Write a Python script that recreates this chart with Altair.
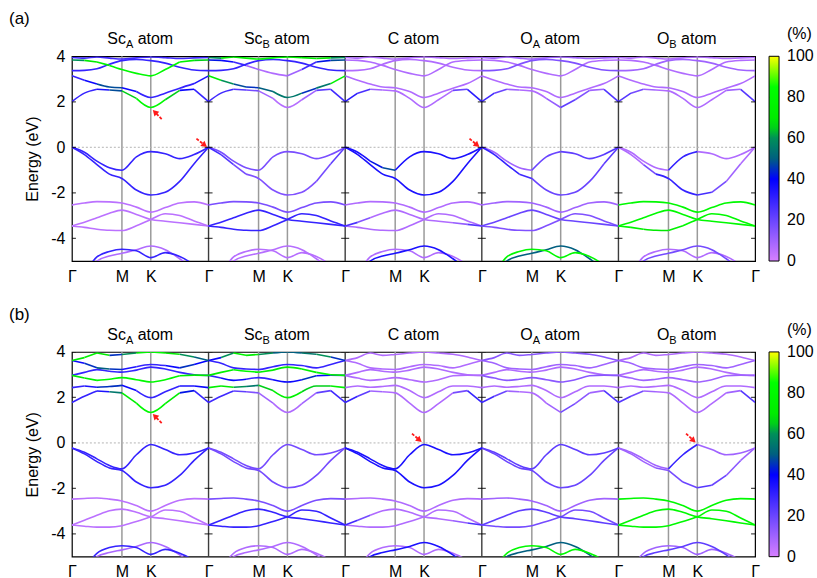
import math
import altair as alt
import pandas as pd

# ---------------- data ----------------
PATH_LEN = 2.732                      # Γ-M-K-Γ path length (ΓM = 1)
K_GRID = [0.0, 0.25, 0.5, 0.75, 1.0, 1.289, 1.577, 1.866, 2.155, 2.444, 2.732]
SYM_POS = [0.0, 1.0, 1.577]           # Γ, M, K inside one panel
PANEL_KEYS = ["ScA", "ScB", "C", "OA", "OB"]
PANEL_TITLES = [("Sc", "A", "atom"), ("Sc", "B", "atom"), ("C atom", "", ""),
                ("O", "A", "atom"), ("O", "B", "atom")]
ROW_LABELS = ["(a)", "(b)"]
E_MIN, E_MAX = -5, 4
Y_TICKS = [-4, -2, 0, 2, 4]
CB_STOPS = [0, 20, 40, 50, 60, 67, 85, 100]
CB_COLORS = ["#d680ff", "#6a45ff", "#0000ff", "#005f80", "#009058", "#00e800", "#00ff00", "#ffff00"]
CB_TICKS = [0, 20, 40, 60, 80, 100]
CB_DASHED = [20, 40, 60, 80]

# band energies (eV) at K_GRID, row (a)
BANDS_A = {
    "BX": [-6.0, -5.5, -4.82, -4.58, -4.48, -4.55, -4.85, -4.63, -4.8, -5.2, -6.0],
    "BY": [-6.0, -5.6, -5.0, -4.78, -4.66, -4.5, -4.34, -4.5, -4.9, -5.4, -6.0],
    "L1": [-2.54, -2.45, -2.39, -2.4, -2.45, -2.63, -2.85, -2.65, -2.45, -2.4, -2.54],
    "L2": [-3.46, -3.3, -3.1, -2.9, -2.76, -2.95, -3.17, -3.25, -3.32, -3.39, -3.46],
    "L3": [-3.46, -3.52, -3.6, -3.65, -3.66, -3.45, -3.17, -2.92, -3.0, -3.24, -3.46],
    "v2": [0.0, -0.32, -0.76, -1.18, -1.37, -1.88, -2.1, -1.98, -1.5, -0.72, 0.0],
    "v1": [0.0, -0.22, -0.61, -0.9, -1.01, -0.42, -0.19, -0.28, -0.5, -0.32, 0.0],
    "C1": [2.01, 2.38, 2.55, 2.52, 2.48, 2.15, 1.75, 2.09, 2.5, 2.55, 2.01],
    "C2": [3.14, 2.95, 2.78, 2.65, 2.62, 2.45, 2.19, 2.38, 2.6, 2.8, 3.14],
    "C3": [3.37, 3.38, 3.45, 3.65, 3.81, 3.86, 3.81, 3.7, 3.52, 3.4, 3.37],
    "C4": [3.84, 3.82, 3.75, 3.6, 3.42, 3.25, 3.14, 3.42, 3.75, 3.82, 3.84],
    "C5": [3.95, 3.92, 3.97, 3.92, 3.88, 3.93, 3.97, 3.94, 3.9, 3.93, 3.95],
}
# band energies (eV) at K_GRID, row (b)
BANDS_B = {
    "BX": [-6.0, -5.5, -4.85, -4.6, -4.52, -4.6, -4.9, -4.68, -4.85, -5.2, -6.0],
    "BY": [-6.0, -5.6, -5.0, -4.82, -4.7, -4.55, -4.38, -4.55, -4.92, -5.4, -6.0],
    "L1": [-2.47, -2.44, -2.42, -2.47, -2.55, -2.75, -3.0, -2.75, -2.52, -2.45, -2.47],
    "L2": [-3.61, -3.4, -3.18, -2.98, -2.91, -3.05, -3.25, -3.33, -3.42, -3.52, -3.61],
    "L3": [-3.61, -3.66, -3.7, -3.7, -3.64, -3.45, -3.25, -2.95, -3.0, -3.3, -3.61],
    "v2": [-0.22, -0.48, -0.82, -1.1, -1.21, -1.72, -1.97, -1.86, -1.43, -0.77, -0.22],
    "v1": [-0.22, -0.41, -0.7, -0.99, -1.14, -0.52, -0.07, -0.29, -0.52, -0.44, -0.22],
    "C1": [1.78, 2.05, 2.28, 2.25, 2.2, 1.75, 1.34, 1.73, 2.2, 2.3, 1.78],
    "C2": [2.43, 2.5, 2.45, 2.48, 2.53, 2.3, 1.99, 2.25, 2.5, 2.5, 2.43],
    "C3": [2.97, 2.85, 2.75, 2.8, 2.87, 2.78, 2.68, 2.78, 2.95, 2.98, 2.97],
    "C4": [2.97, 3.1, 3.22, 3.15, 3.11, 3.2, 3.33, 3.25, 3.1, 3.0, 2.97],
    "C5": [3.62, 3.5, 3.3, 3.25, 3.23, 3.35, 3.45, 3.4, 3.3, 3.45, 3.62],
    "C6": [3.62, 3.75, 3.95, 3.85, 3.89, 3.95, 4.0, 3.95, 3.9, 3.78, 3.62],
}

# atom-projected weight (%) per panel and band; a list gives one value per k-segment
WEIGHTS_A = {
    "ScA": {"v1": 30, "v2": 30, "L1": 5, "L2": 5, "L3": 5, "BX": 30, "BY": 7,
            "C1": [30, 30, 35, 48, 65, 80, 80, 65, 38, 30], "C2": [30, 38, 48, 48, 38, 30, 30, 30, 30, 35],
            "C3": 30, "C4": [60, 70, 75, 80, 80, 80, 80, 80, 75, 65], "C5": 28},
    "ScB": {"v1": 17, "v2": [28, 24, 18, 16, 16, 16, 16, 16, 18, 22], "L1": 17, "L2": 30, "L3": 30,
            "BX": 6, "BY": 6,
            "C1": [28, 28, 24, 18, 10, 6, 6, 10, 22, 28], "C2": [75, 60, 48, 45, 50, 55, 55, 45, 55, 75],
            "C3": 30, "C4": [42, 38, 28, 10, 7, 7, 10, 28, 42, 48],
            "C5": [60, 70, 75, 80, 80, 80, 80, 75, 70, 60]},
    "C": {"v1": [35, 35, 42, 48, 35, 35, 35, 35, 35, 35], "v2": 35, "L1": 7,
          "L2": [26, 15, 7, 7, 7, 7, 7, 7, 12, 24], "L3": 7, "BX": 7, "BY": 35,
          "C1": [32, 26, 10, 7, 7, 7, 7, 7, 20, 32], "C2": 7, "C3": 7, "C4": 7, "C5": 7},
    "OA": {"v1": [10, 10, 10, 10, 20, 20, 22, 22, 22, 25], "v2": [30, 30, 30, 28, 20, 20, 20, 20, 20, 23],
           "L1": 10, "L2": 20, "L3": 16, "BX": 80, "BY": 50,
           "C1": [28, 20, 10, 7, 7, 12, 22, 16, 10, 25], "C2": 7, "C3": 16, "C4": 7, "C5": 10},
    "OB": {"v1": [7, 7, 7, 7, 30, 30, 7, 7, 7, 7], "v2": [7, 7, 18, 30, 30, 30, 27, 18, 10, 7],
           "L1": 80, "L2": 80, "L3": [80, 75, 68, 68, 75, 80, 80, 80, 80, 80], "BX": 7, "BY": 18,
           "C1": [24, 18, 10, 7, 7, 7, 7, 7, 10, 24], "C2": 7, "C3": 10, "C4": 7, "C5": 7},
}
WEIGHTS_B = {
    "ScA": {"v1": 30, "v2": 30, "L1": 5, "L2": 5, "L3": 5, "BX": 30, "BY": 8,
            "C1": [30, 30, 35, 55, 72, 80, 80, 72, 42, 30], "C2": [30, 35, 45, 45, 38, 30, 30, 30, 35, 38],
            "C3": [70, 75, 80, 80, 80, 80, 80, 80, 75, 70], "C4": 30,
            "C5": [38, 45, 50, 45, 35, 30, 30, 38, 45, 40], "C6": [70, 75, 70, 45, 60, 75, 80, 70, 60, 50]},
    "ScB": {"v1": 18, "v2": 18, "L1": 17, "L2": 30, "L3": 30, "BX": 7, "BY": 7,
            "C1": [28, 28, 22, 16, 10, 7, 7, 10, 22, 28], "C2": [75, 70, 60, 55, 65, 75, 75, 65, 65, 75],
            "C3": [30, 38, 38, 30, 30, 38, 38, 45, 38, 30], "C4": [70, 75, 80, 80, 75, 70, 70, 75, 80, 75],
            "C5": 30, "C6": [38, 60, 75, 70, 60, 50, 50, 55, 60, 45]},
    "C": {"v1": 35, "v2": 35, "L1": 7, "L2": [28, 18, 7, 7, 7, 7, 7, 7, 12, 26], "L3": 7,
          "BX": 7, "BY": 35,
          "C1": [30, 22, 10, 7, 7, 7, 7, 7, 18, 30], "C2": 7, "C3": 7, "C4": 7, "C5": 7, "C6": 7},
    "OA": {"v1": 22, "v2": 20, "L1": 10, "L2": 22, "L3": 18, "BX": 80, "BY": 50,
           "C1": [28, 20, 10, 7, 7, 10, 18, 14, 10, 25], "C2": 7, "C3": 14, "C4": 7, "C5": 10, "C6": 14},
    "OB": {"v1": [10, 10, 10, 10, 30, 30, 10, 10, 10, 10], "v2": [10, 10, 10, 14, 18, 20, 24, 20, 14, 10],
           "L1": 80, "L2": 80, "L3": 80, "BX": 10, "BY": 22,
           "C1": [24, 18, 10, 7, 7, 7, 7, 7, 10, 24], "C2": 7, "C3": 10, "C4": 7, "C5": 10, "C6": 7},
}

# red arrows: (tip x, tip E, tail x, tail E) on the row's x / energy axes
ARROWS_A = [(1.612, 1.65, 1.795, 1.24), (2.71, 0.0, 2.49, 0.38), (8.155, 0.0, 7.95, 0.38)]
ARROWS_B = [(1.612, 1.28, 1.795, 0.87), (7.0, 0.03, 6.80, 0.41), (12.48, 0.0, 12.28, 0.41)]

# ---------------- layout ----------------
W, H = 684, 205
FONT = "Liberation Sans"
X_MAX = 5 * PATH_LEN
PX_PER_K = W / X_MAX
PX_PER_E = H / (E_MAX - E_MIN)
BAR_X, BAR_W = W + 14, 10
CW = {"S": 667, "c": 500, "C": 722, "O": 778, "A": 667, "B": 667, " ": 278,
      "a": 556, "t": 278, "o": 556, "m": 833}


def text_w(s, fs):
    return sum(CW.get(ch, 556) for ch in s) / 1000.0 * fs


def band_frame(bands, weights):
    recs = []
    nseg = len(K_GRID) - 1
    for p, key in enumerate(PANEL_KEYS):
        for bname, E in bands.items():
            w = weights[key].get(bname, 8)
            segw = w if isinstance(w, list) else [w] * nseg
            start, piece = 0, 0
            for i in range(1, nseg + 1):
                if i == nseg or segw[i] != segw[start]:
                    pid = f"{p}-{bname}-{piece}"
                    for j in range(start, i + 1):
                        recs.append({"x": p * PATH_LEN + K_GRID[j], "E": E[j], "w": segw[start],
                                     "piece": pid, "j": j})
                    piece += 1
                    start = i
    df = pd.DataFrame(recs)
    return df.sort_values(["w", "piece", "j"], kind="stable").reset_index(drop=True)


def pct_to_e(v):
    # colour-bar position expressed on the row's energy axis (bar spans the full plot height)
    return E_MIN + v / 100.0 * (E_MAX - E_MIN)


cscale = alt.Scale(domain=CB_STOPS, range=CB_COLORS, interpolate="rgb")
xs = alt.Scale(domain=[0, X_MAX], nice=False, zero=False)
ys = alt.Scale(domain=[E_MIN, E_MAX], nice=False, zero=False)
tick_vals = [round(p * PATH_LEN + s, 4) for p in range(5) for s in SYM_POS] + [X_MAX]
r = f"(datum.value - floor(datum.value / {PATH_LEN} + 0.001) * {PATH_LEN})"
label_expr = f"{r} < 0.5 ? 'Γ' : ({r} < 1.3 ? 'M' : 'K')"
x_axis = alt.Axis(values=tick_vals, labelExpr=label_expr, title=None, tickSize=0, domain=False,
                  grid=False, labelFontSize=16, labelPadding=7, labelFlush=False, labelOverlap=False,
                  labelColor="black", labelFont=FONT)
y_axis = alt.Axis(values=Y_TICKS, labelExpr="'' + datum.value", title="Energy (eV)", tickSize=0,
                  domain=False, grid=False, labelFontSize=16, labelPadding=7, labelColor="black",
                  titleFontSize=16, titleFontWeight="normal", titlePadding=10, titleColor="black",
                  labelFont=FONT, titleFont=FONT)
X = alt.X("x:Q", scale=xs, axis=x_axis)
Y = alt.Y("E:Q", scale=ys, axis=y_axis)


def make_row(label, bands, weights, arrows):
    df = band_frame(bands, weights)
    legend = alt.Legend(title=None, labelOpacity=0, labelFontSize=1, values=CB_TICKS,
                        direction="vertical", orient="none", legendX=BAR_X, legendY=0,
                        gradientLength=H, gradientThickness=BAR_W, gradientStrokeColor="black",
                        gradientStrokeWidth=1)
    sym_df = pd.DataFrame({"x": [p * PATH_LEN + s for p in range(5) for s in SYM_POS[1:]]})
    bnd_df = pd.DataFrame({"x": [p * PATH_LEN for p in range(1, 5)]})
    zero_df = pd.DataFrame({"E": [0.0]})
    tick_df = pd.DataFrame([{"x": p * PATH_LEN, "E": e} for p in range(6) for e in Y_TICKS])

    sym_rules = alt.Chart(sym_df).mark_rule(color="#9a9a9a", strokeWidth=1.5).encode(x=X)
    bnd_rules = alt.Chart(bnd_df).mark_rule(color="#3c3c3c", strokeWidth=1.4).encode(x=X)
    zero_rule = alt.Chart(zero_df).mark_rule(color="#b4b4b4", strokeWidth=1,
                                             strokeDash=[2, 2]).encode(y=Y)
    ticks = alt.Chart(tick_df).mark_tick(orient="horizontal", size=8, thickness=1.2,
                                         color="black", clip=True).encode(x=X, y=Y)
    lines = alt.Chart(df).mark_line(clip=True, strokeWidth=1.6, interpolate="monotone").encode(
        x=X, y=Y, color=alt.Color("w:Q", scale=cscale, legend=legend),
        detail="piece:N", order=alt.Order("j:Q"))

    # colour-bar labels, title and dashed ticks
    cb_lab = alt.Chart(pd.DataFrame({"E": [pct_to_e(v) for v in CB_TICKS],
                                     "t": [str(v) for v in CB_TICKS]})).mark_text(
        align="left", baseline="middle", fontSize=16, font=FONT, color="black").encode(
        x=alt.value(BAR_X + BAR_W + 8), y=Y, text="t:N")
    cb_title = alt.Chart(pd.DataFrame({"t": ["(%)"]})).mark_text(
        align="left", baseline="middle", fontSize=16, font=FONT, color="black").encode(
        x=alt.value(BAR_X + BAR_W + 8), y=alt.value(-22), text="t:N")
    cb_dash = alt.Chart(pd.DataFrame({"E": [pct_to_e(v) for v in CB_DASHED]})).mark_rule(
        color="black", strokeWidth=1, strokeDash=[3, 2]).encode(
        x=alt.value(BAR_X), x2=alt.value(BAR_X + BAR_W), y=Y)

    # panel titles with subscripts
    main_recs, sub_recs = [], []
    for p, (base, sub, rest) in enumerate(PANEL_TITLES):
        wb, ws = text_w(base, 16), text_w(sub, 11)
        wsp = text_w(" ", 16) if rest else 0.0
        wr = text_w(rest, 16)
        total = wb + ws + wsp + wr
        cx = (p + 0.5) * PATH_LEN
        x0 = -total / 2
        main_recs.append({"x": cx + x0 / PX_PER_K, "t": base})
        if sub:
            sub_recs.append({"x": cx + (x0 + wb) / PX_PER_K, "t": sub})
        if rest:
            main_recs.append({"x": cx + (x0 + wb + ws + wsp) / PX_PER_K, "t": rest})
    t_main = alt.Chart(pd.DataFrame(main_recs)).mark_text(
        align="left", baseline="middle", fontSize=16, font=FONT, color="black").encode(
        x=X, y=alt.value(-17), text="t:N")
    t_sub = alt.Chart(pd.DataFrame(sub_recs)).mark_text(
        align="left", baseline="middle", fontSize=11, font=FONT, color="black").encode(
        x=X, y=alt.value(-11), text="t:N")
    row_lab = alt.Chart(pd.DataFrame({"t": [label]})).mark_text(
        align="left", baseline="middle", fontSize=17, font=FONT, color="black").encode(
        x=alt.value(-63), y=alt.value(-37), text="t:N")

    # arrows
    shaft, heads = [], []
    for tx, te, sx, se in arrows:
        dxp = (tx - sx) * PX_PER_K
        dyp = -(te - se) * PX_PER_E
        ang = math.degrees(math.atan2(dxp, -dyp)) % 360
        shaft.append({"x": sx, "E": se, "x2": tx - 0.35 * (tx - sx), "E2": te - 0.35 * (te - se)})
        heads.append({"x": tx - 0.25 * (tx - sx), "E": te - 0.25 * (te - se), "a": ang})
    arr_shaft = alt.Chart(pd.DataFrame(shaft)).mark_rule(color="#ff1a1a", strokeWidth=1.8,
                                                         strokeDash=[3, 1.5]).encode(
        x=X, y=Y, x2="x2:Q", y2="E2:Q")
    arr_head = alt.Chart(pd.DataFrame(heads)).mark_point(
        shape="triangle-up", filled=True, color="#ff1a1a", size=45, opacity=1).encode(
        x=X, y=Y, angle=alt.Angle("a:Q", scale=None))

    return alt.layer(sym_rules, bnd_rules, zero_rule, lines, ticks, arr_shaft, arr_head,
                     t_main, t_sub, row_lab, cb_dash, cb_lab, cb_title).properties(width=W, height=H)


row_a = make_row(ROW_LABELS[0], BANDS_A, WEIGHTS_A, ARROWS_A)
row_b = make_row(ROW_LABELS[1], BANDS_B, WEIGHTS_B, ARROWS_B)

chart = (alt.vconcat(row_a, row_b, spacing=20)
         .resolve_scale(color="independent")
         .resolve_legend(color="independent")
         .properties(padding={"left": 8, "top": 9, "right": 2, "bottom": 0})
         .configure(font=FONT)
         .configure_view(stroke="black", strokeWidth=1.2))

chart.save("out.html", embed_options={"renderer": "svg", "actions": False})
